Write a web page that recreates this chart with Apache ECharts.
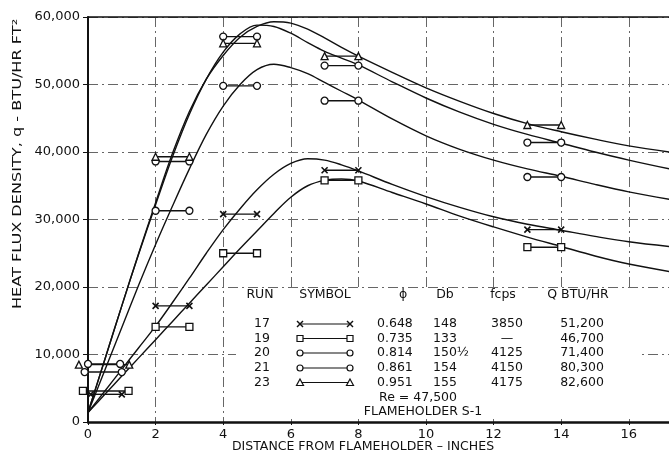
<!DOCTYPE html>
<html><head><meta charset="utf-8">
<script src="https://cdn.jsdelivr.net/npm/echarts@6/dist/echarts.min.js"></script>
<style>html,body{margin:0;padding:0;background:#fff}#c{width:669px;height:460px}</style>
</head><body><div id="c"></div>
<script>
// ---- data ----
const xTickLabels = [0, 2, 4, 6, 8, 10, 12, 14, 16];
const yTickLabels = [0, 10000, 20000, 30000, 40000, 50000, 60000];
const curveX = [0, 0.5, 1, 1.5, 2, 2.5, 3, 3.5, 4, 4.5, 5, 5.5, 6, 6.5, 7, 7.5, 8, 9, 10, 11, 12, 13, 14, 15, 16, 17.2];
const curve17 = [1400, 4600, 7800, 11000, 14200, 17700, 21300, 25000, 28500, 31600, 34400, 36700, 38300, 39000, 38800, 38100, 37200, 35200, 33400, 31800, 30400, 29300, 28400, 27500, 26700, 26000];
const curve19 = [1400, 4100, 6800, 9500, 12200, 14900, 17600, 20300, 23000, 25700, 28300, 30900, 33300, 35000, 35800, 36000, 35700, 34000, 32300, 30500, 28900, 27400, 26000, 24600, 23400, 22300];
const curve20 = [1400, 7700, 14000, 20300, 26300, 32000, 37500, 42600, 46800, 50000, 52200, 53000, 52500, 51600, 50300, 49000, 47700, 44900, 42400, 40400, 38800, 37500, 36400, 35200, 34100, 33000];
const curve21 = [1400, 9300, 17200, 24900, 32200, 39300, 45600, 50800, 54800, 57500, 58800, 58600, 57600, 56200, 54900, 53900, 52900, 50400, 48000, 45900, 44100, 42600, 41300, 40000, 38800, 37500];
const curve23 = [1400, 9300, 17200, 25000, 32500, 39800, 46000, 50800, 54300, 57000, 58600, 59300, 59100, 58200, 56900, 55500, 54200, 51800, 49500, 47500, 45700, 44200, 43000, 41900, 40900, 40000];
// measured spans: [xStart, xEnd, q]
const seg17 = [[0.08, 1.0, 4100], [2, 3, 17200], [4, 5, 30800], [7, 8, 37300], [13, 14, 28500]];
const seg19 = [[-0.15, 1.2, 4600], [2, 3, 14100], [4, 5, 25000], [7, 8, 35800], [13, 14, 25900]];
const seg20 = [[-0.1, 1.0, 7400], [2, 3, 31300], [4, 5, 49800], [7, 8, 47600], [13, 14, 36300]];
const seg21 = [[0, 0.95, 8600], [2, 3, 38600], [4, 5, 57100], [7, 8, 52800], [13, 14, 41400]];
const seg23 = [[-0.27, 1.22, 8500], [2, 3, 39300], [4, 5, 56100], [7, 8, 54200], [13, 14, 44000]];
// table
const tblRun = ['17', '19', '20', '21', '23'];
const tblPhi = ['0.648', '0.735', '0.814', '0.861', '0.951'];
const tblDb = ['148', '133', '150½', '154', '155'];
const tblFcps = ['3850', '—', '4125', '4150', '4175'];
const tblQ = ['51,200', '46,700', '71,400', '80,300', '82,600'];
const tblHead = ['RUN', 'SYMBOL', 'ϕ', 'Db', 'fcps', 'Q BTU/HR'];

// ---- chart ----
const FONT = 'DejaVu Sans';
const INK = '#111';
const XMAX = 17.19;
const SYM = {
  x: 'path://M0,0L10,10M10,0L0,10',
  sq: 'rect', ci: 'circle', tr: 'triangle'
};
const runs = [
  {curve: curve17, seg: seg17, sym: 'x'},
  {curve: curve19, seg: seg19, sym: 'sq'},
  {curve: curve20, seg: seg20, sym: 'ci'},
  {curve: curve21, seg: seg21, sym: 'ci'},
  {curve: curve23, seg: seg23, sym: 'tr'}
];
const series = [];
runs.forEach(r => {
  series.push({
    type: 'line', smooth: 0.35, showSymbol: false, silent: true, z: 2,
    data: curveX.map((x, i) => [x, r.curve[i]]),
    lineStyle: {color: INK, width: 1.4}
  });
  r.seg.forEach(s => {
    const isX = r.sym === 'x';
    series.push({
      type: 'line', clip: false, silent: true, z: 3,
      symbol: SYM[r.sym], symbolSize: isX ? 6 : 7, showSymbol: true,
      data: [[s[0], s[2]], [s[1], s[2]]],
      lineStyle: {color: INK, width: 1.4},
      itemStyle: isX ? {color: INK, borderColor: INK, borderWidth: 1.6}
                     : {color: '#fff', borderColor: INK, borderWidth: 1.3}
    });
  });
});

const splitStyle = {color: '#666', width: 1, type: [10, 4, 2, 4]};
const graphics = [];
// blank panel behind the run table (hides grid lines there)
graphics.push({type: 'rect', silent: true, z: 1, shape: {x: 236, y: 289, width: 404, height: 130}, style: {fill: '#fff'}});
function txt(x, y, t, align, size, extra) {
  graphics.push(Object.assign({
    type: 'text', x: x, y: y, silent: true, z: 5,
    style: {text: t, fill: INK, fontFamily: FONT, fontSize: size || 13,
            align: align || 'center', verticalAlign: 'middle',
            textAlign: align || 'center', textVerticalAlign: 'middle'}
  }, extra || {}));
}
// axis titles
txt(363, 447, 'DISTANCE FROM FLAMEHOLDER – INCHES', 'center', 12.5);
txt(18, 164, 'HEAT FLUX DENSITY, q - BTU/HR FT²', 'center', 13, {rotation: Math.PI / 2, scaleX: 1.24});
// table header
const headX = [260, 325, 403, 445, 503, 578];
tblHead.forEach((h, i) => txt(headX[i], 295, h, 'center', 12.5));
const rowY = [324, 338.5, 353, 368, 382.5];
const symKinds = ['x', 'sq', 'ci', 'ci', 'tr'];
rowY.forEach((y, i) => {
  txt(262, y, tblRun[i], 'center', 12.5);
  txt(377, y, tblPhi[i], 'left', 12.5);
  txt(433, y, tblDb[i], 'left', 12.5);
  txt(507, y, tblFcps[i], 'center', 12.5);
  txt(582, y, tblQ[i], 'center', 12.5);
  // legend sample
  graphics.push({type: 'line', silent: true, z: 5, shape: {x1: 300, y1: y, x2: 350, y2: y}, style: {stroke: INK, lineWidth: 1.2}});
  [300, 350].forEach(cx => {
    const k = symKinds[i];
    if (k === 'x') {
      graphics.push({type: 'line', silent: true, z: 5, shape: {x1: cx - 3, y1: y - 3, x2: cx + 3, y2: y + 3}, style: {stroke: INK, lineWidth: 1.4}});
      graphics.push({type: 'line', silent: true, z: 5, shape: {x1: cx - 3, y1: y + 3, x2: cx + 3, y2: y - 3}, style: {stroke: INK, lineWidth: 1.4}});
    } else if (k === 'sq') {
      graphics.push({type: 'rect', silent: true, z: 5, shape: {x: cx - 3, y: y - 3, width: 6, height: 6}, style: {fill: '#fff', stroke: INK, lineWidth: 1.2}});
    } else if (k === 'ci') {
      graphics.push({type: 'circle', silent: true, z: 5, shape: {cx: cx, cy: y, r: 3}, style: {fill: '#fff', stroke: INK, lineWidth: 1.2}});
    } else {
      graphics.push({type: 'polygon', silent: true, z: 5, shape: {points: [[cx, y - 3.5], [cx + 3.5, y + 3], [cx - 3.5, y + 3]]}, style: {fill: '#fff', stroke: INK, lineWidth: 1.2}});
    }
  });
});
txt(418, 398, 'Re = 47,500', 'center', 12.5);
txt(423, 412, 'FLAMEHOLDER S-1', 'center', 12.5);

const chart = echarts.init(document.getElementById('c'), null, {renderer: 'canvas'});
chart.setOption({
  animation: false,
  backgroundColor: '#fff',
  grid: {left: 88, right: 0, top: 17, bottom: 38, containLabel: false},
  xAxis: [{
    type: 'value', min: 0, max: XMAX, interval: 2, position: 'bottom',
    axisLine: {show: true, onZero: false, lineStyle: {color: INK, width: 2.5}},
    axisTick: {show: true, length: 3, lineStyle: {color: INK}},
    axisLabel: {color: INK, fontFamily: FONT, fontSize: 13, margin: 6, showMaxLabel: false,
      formatter: v => xTickLabels.indexOf(v) >= 0 ? String(v) : ''},
    splitLine: {show: true, lineStyle: splitStyle}
  }, {
    type: 'value', min: 0, max: XMAX, position: 'top',
    axisLine: {show: true, onZero: false, lineStyle: {color: INK, width: 1.5}},
    axisTick: {show: false}, axisLabel: {show: false}, splitLine: {show: false}
  }],
  yAxis: {
    type: 'value', min: 0, max: 60000, interval: 10000,
    axisLine: {show: true, onZero: false, lineStyle: {color: INK, width: 2}},
    axisTick: {show: true, length: 5, lineStyle: {color: INK}},
    axisLabel: {color: INK, fontFamily: FONT, fontSize: 13, margin: 8,
      formatter: v => yTickLabels.indexOf(v) >= 0 ? v.toLocaleString('en-US') : ''},
    splitLine: {show: true, lineStyle: splitStyle}
  },
  series: series,
  graphic: graphics
});
</script></body></html>
